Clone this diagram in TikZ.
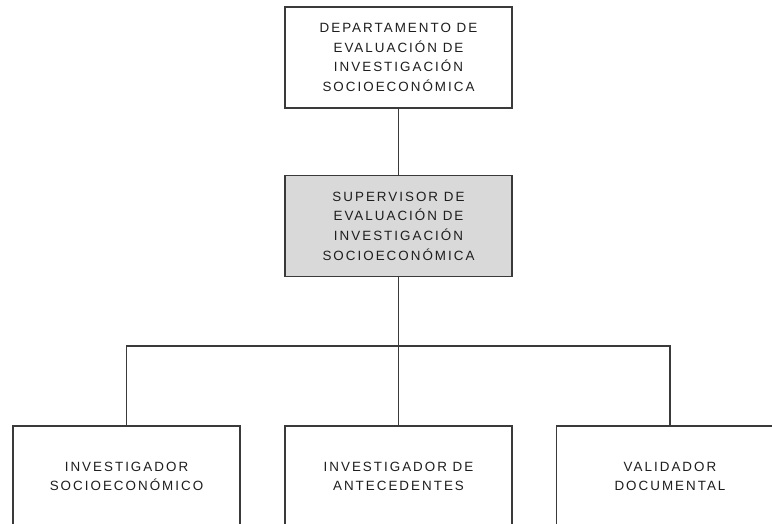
\documentclass[tikz,border=0pt]{standalone}
\usepackage{fontspec}
\setmainfont{Liberation Sans}[LetterSpace=15]
\definecolor{lineclr}{HTML}{3A3A3A}
\definecolor{boxgray}{HTML}{D9D9D9}
\definecolor{txt}{HTML}{1E1E1E}
\begin{document}
\begin{tikzpicture}[x=1pt,y=-1pt,
  box/.style={draw=lineclr, line width=1.3pt, fill=white, minimum width=227pt, minimum height=101pt,
    align=center, text=txt, font=\fontsize{13.4}{19.6}\selectfont, inner sep=0pt},
  graybox/.style={box, fill=boxgray},
  conn/.style={draw=lineclr, line width=1.3pt}]
\useasboundingbox (0,0) rectangle (772,523);
\clip (0,0) rectangle (772,523);
\node[box] (dep) at (398.5,57.5) {DEPARTAMENTO DE\\EVALUACIÓN DE\\INVESTIGACIÓN\\SOCIOECONÓMICA};
\node[graybox] (sup) at (398.5,226) {SUPERVISOR DE\\EVALUACIÓN DE\\INVESTIGACIÓN\\SOCIOECONÓMICA};
\node[box] (inv1) at (126.5,476.5) {INVESTIGADOR\\SOCIOECONÓMICO};
\node[box] (inv2) at (398.5,476.5) {INVESTIGADOR DE\\ANTECEDENTES};
\node[box] (val) at (670,476.5) {VALIDADOR\\DOCUMENTAL};
\coordinate (bus) at (398.5,346);
\draw[conn] (dep.south) -- (sup.north);
\draw[conn] (sup.south) -- (bus);
\draw[conn] (inv1.north) |- (bus) -| (val.north);
\draw[conn] (bus) -- (inv2.north);
\end{tikzpicture}
\end{document}
